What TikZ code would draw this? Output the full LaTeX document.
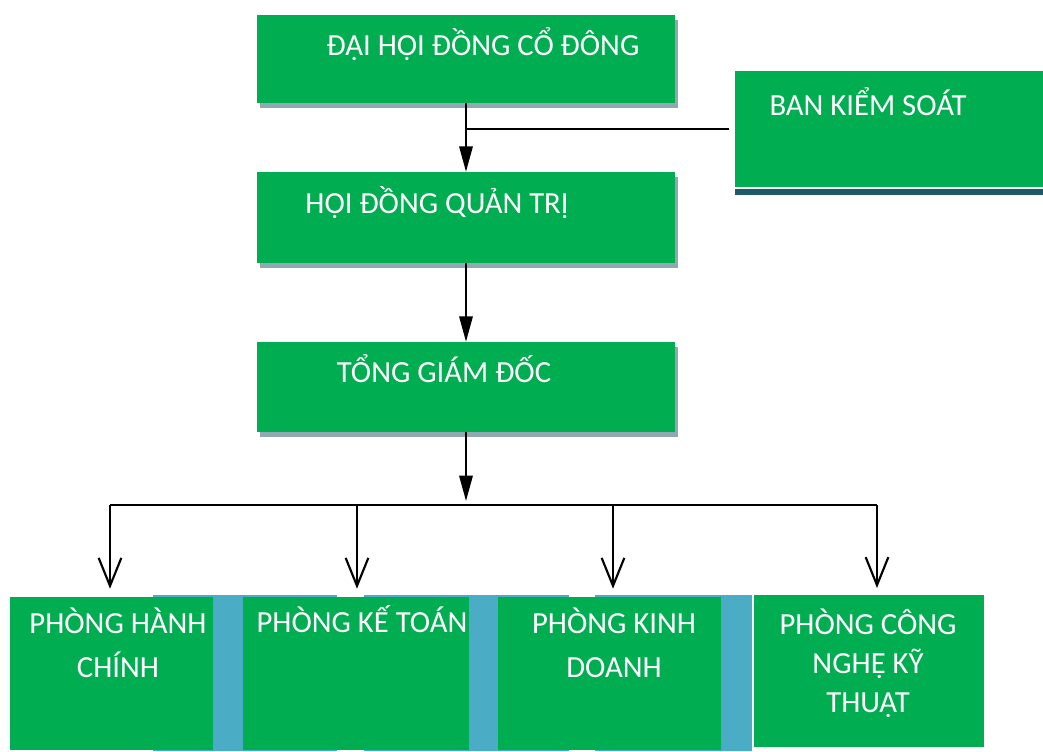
\documentclass[tikz,border=0pt]{standalone}
\usepackage{fontspec}
\setmainfont{Carlito}
\usetikzlibrary{arrows.meta,shadows}
\definecolor{boxgreen}{RGB}{0,173,80}
\definecolor{shadowgray}{RGB}{143,168,178}
\definecolor{stripblue}{RGB}{75,172,198}
\definecolor{darkteal}{RGB}{31,88,104}
\tikzset{
  greenbox/.style={draw=none,fill=boxgreen,inner sep=0pt},
  topbox/.style={greenbox,drop shadow={shadow xshift=2.25pt,shadow yshift=-3.75pt,fill=shadowgray,opacity=1}},
  boxtext/.style={text=white,font=\fontsize{23}{33}\selectfont,inner sep=0.75pt,align=center,anchor=base},
  fillarrow/.style={line width=1.6pt,-{Triangle[length=19pt,width=10pt]}},
  openarrow/.style={line width=1.6pt,-{Straight Barb[length=21pt,width=17pt]}},
}
\begin{document}
\begin{tikzpicture}[x=0.75pt,y=0.75pt,yscale=-1]
\useasboundingbox (0,0) rectangle (1043,751);
%Shape: Rectangle (blue strips behind the departments)
\fill[stripblue] (153,595) rectangle (337,751);
\fill[stripblue] (364,595) rectangle (569,751);
\fill[stripblue] (595,595) rectangle (752,751);
%Shape: top boxes
\node[topbox,minimum width=313.5pt,minimum height=66pt] (dhdcd) at (466,59) {};
\node[topbox,minimum width=313.5pt,minimum height=68.25pt] (hdqt) at (466,217.5) {};
\node[topbox,minimum width=313.5pt,minimum height=67.5pt] (tgd) at (466,387) {};
\node[greenbox,draw=white,line width=1pt,minimum width=237pt,minimum height=88.5pt,
  drop shadow={shadow xshift=1pt,shadow yshift=-5pt,fill=darkteal,opacity=1}] (bks) at (892,129) {};
%Shape: department boxes
\node[greenbox,minimum width=152.25pt,minimum height=114.75pt] (phc) at (111.5,673.5) {};
\node[greenbox,minimum width=169.5pt,minimum height=114.75pt] (pkt) at (356,673.5) {};
\node[greenbox,minimum width=167.25pt,minimum height=114.75pt] (pkd) at (609.5,673.5) {};
\node[greenbox,draw=white,line width=1pt,minimum width=174pt,minimum height=115.5pt] (pcn) at (869,671) {};
% Text Node
\node[boxtext] (tdhdcd) at (483,55) {ĐẠI HỘI ĐỒNG CỔ ĐÔNG};
\node[boxtext] (tbks) at (868,115) {BAN KIỂM SOÁT};
\node[boxtext] (thdqt) at (437,213) {HỘI ĐỒNG QUẢN TRỊ};
\node[boxtext] (ttgd) at (444,382) {TỔNG GIÁM ĐỐC};
\node[boxtext] (tphc) at (118,677) {PHÒNG HÀNH\\CHÍNH};
\node[boxtext] (tpkt) at (362,632) {PHÒNG KẾ TOÁN};
\node[boxtext] (tpkd) at (614,677) {PHÒNG KINH\\DOANH};
\node[boxtext,font=\fontsize{23}{29}\selectfont] (tpcn) at (868,712) {PHÒNG CÔNG\\NGHỆ KỸ\\THUẬT};
% connectors
\coordinate (bus) at (466,505);
\coordinate (d1) at (110,505);
\coordinate (d2) at (357,505);
\coordinate (d3) at (613,505);
\coordinate (d4) at (877,505);
\draw[fillarrow] (dhdcd) -- (hdqt);
\draw[line width=1.6pt,shorten <=3pt] (bks.west) -- (bks.west -| dhdcd.south);
\draw[fillarrow] (hdqt) -- (tgd);
\draw[fillarrow,shorten >=3pt] (tgd) -- (bus);
\draw[line width=1.6pt] (d1) -- (d4);
\draw[openarrow,shorten >=6pt] (d1) -- (d1 |- phc.north);
\draw[openarrow,shorten >=6pt] (d2) -- (d2 |- pkt.north);
\draw[openarrow,shorten >=6pt] (d3) -- (d3 |- pkd.north);
\draw[openarrow,shorten >=4pt] (d4) -- (d4 |- pcn.north);
\end{tikzpicture}
\end{document}
